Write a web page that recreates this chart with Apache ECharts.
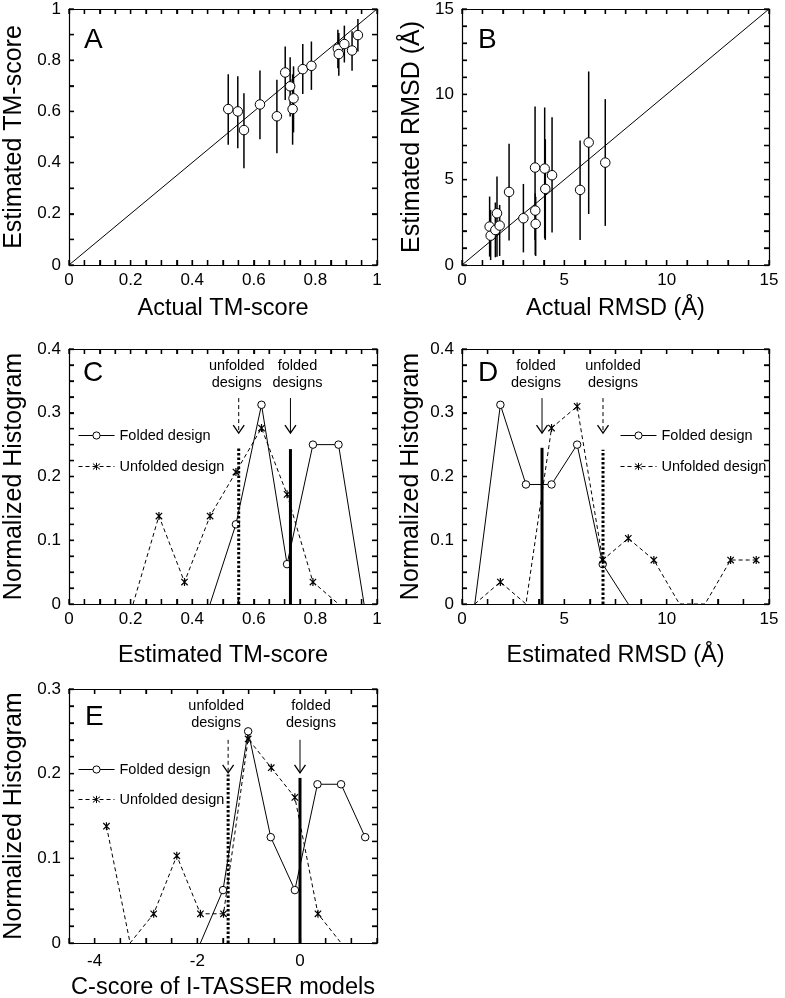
<!DOCTYPE html>
<html>
<head>
<meta charset="utf-8">
<script src="https://cdn.jsdelivr.net/npm/echarts@6/dist/echarts.min.js"></script>
<style>
html, body { margin: 0; padding: 0; background: #fff; }
#chart { width: 785px; height: 998px; }
</style>
</head>
<body>
<div id="chart"></div>
<script>
// ---- A: estimated vs actual TM-score ----
const aActual    = [0.517, 0.548, 0.568, 0.620, 0.675, 0.702, 0.718, 0.729, 0.726, 0.759, 0.787, 0.873, 0.876, 0.894, 0.919, 0.938];
const aEstimated = [0.609, 0.600, 0.527, 0.627, 0.581, 0.752, 0.698, 0.651, 0.609, 0.765, 0.778, 0.845, 0.824, 0.863, 0.838, 0.898];
const aErrLow    = [0.470, 0.456, 0.378, 0.491, 0.437, 0.645, 0.580, 0.518, 0.470, 0.668, 0.684, 0.769, 0.739, 0.791, 0.759, 0.834];
const aErrHigh   = [0.745, 0.737, 0.671, 0.760, 0.724, 0.854, 0.812, 0.776, 0.745, 0.863, 0.873, 0.919, 0.906, 0.935, 0.913, 0.961];
const aIdentity  = [0, 1];

// ---- B: estimated vs actual RMSD ----
const bActual    = [1.35, 1.40, 1.63, 1.71, 1.84, 2.30, 3.00, 3.57, 3.58, 3.60, 4.04, 4.07, 4.40, 5.77, 6.19, 7.00];
const bEstimated = [2.25, 1.72, 2.05, 3.03, 2.31, 4.28, 2.74, 5.71, 3.19, 2.41, 5.65, 4.46, 5.26, 4.40, 7.18, 6.00];
const bErrLow    = [0.49, 0.29, 0.45, 0.49, 0.53, 1.43, 0.74, 1.47, 0.59, 0.53, 1.56, 1.47, 1.90, 1.47, 2.99, 2.29];
const bErrHigh   = [4.01, 3.23, 3.66, 5.18, 3.52, 7.10, 4.75, 9.29, 4.20, 4.00, 9.23, 7.37, 8.66, 7.29, 11.34, 9.72];
const bIdentity  = [0, 15];

// ---- C: histogram of estimated TM-score ----
const cFoldedX   = [0.458, 0.542, 0.625, 0.708, 0.792, 0.875, 0.958];
const cFoldedY   = [0, 0.125, 0.3125, 0.0625, 0.25, 0.25, 0];
const cUnfoldedX = [0.208, 0.292, 0.375, 0.458, 0.542, 0.625, 0.708, 0.792, 0.875];
const cUnfoldedY = [0, 0.138, 0.0345, 0.138, 0.207, 0.276, 0.172, 0.0345, 0];
const cCuts      = [0.551, 0.719];   // unfolded mean, folded mean

// ---- D: histogram of estimated RMSD ----
const dFoldedX   = [0.625, 1.875, 3.125, 4.375, 5.625, 6.875, 8.125];
const dFoldedY   = [0, 0.3125, 0.1875, 0.1875, 0.25, 0.0625, 0];
const dUnfoldedX = [0.625, 1.875, 3.125, 4.375, 5.625, 6.875, 8.125, 9.375, 10.625, 11.875, 13.125, 14.375];
const dUnfoldedY = [0, 0.0345, 0, 0.276, 0.31, 0.069, 0.103, 0.069, 0, 0, 0.069, 0.069];
const dCuts      = [3.91, 6.89];     // folded mean, unfolded mean

// ---- E: histogram of C-score ----
const eFoldedX   = [-1.94, -1.50, -1.01, -0.57, -0.10, 0.34, 0.80, 1.27];
const eFoldedY   = [0, 0.0625, 0.25, 0.125, 0.0625, 0.1875, 0.1875, 0.125];
const eUnfoldedX = [-3.77, -3.31, -2.85, -2.40, -1.94, -1.49, -1.01, -0.56, -0.10, 0.35, 0.80];
const eUnfoldedY = [0.138, 0, 0.0345, 0.103, 0.0345, 0.0345, 0.241, 0.207, 0.172, 0.0345, 0];
const eCuts      = [-1.40, 0.0];     // unfolded mean, folded mean

const legendNames = ['Folded design', 'Unfolded design'];
const cutText = { folded: 'folded\ndesigns', unfolded: 'unfolded\ndesigns' };

const FONT = 'Liberation Sans, Arial, sans-serif';
const STAR = 'path://M0,-5L0,5M-4,-4L4,4M-4,4L4,-4';

let xAxes = [];
let yAxes = [];
let frameTicks = [];

function tickText(step){
  return function(v){
    const k = v / step;
    return Math.abs(k - Math.round(k)) < 1e-6 ? String(Math.round(v * 1000) / 1000) : '';
  };
}

// inward frame ticks, one item per tick: [x, y, side] (0 bottom, 1 top, 2 left, 3 right)
function tickSeries(grid, x, y){
  const items = [];
  const nx = Math.round((x.max - x.min) / x.interval);
  for (let i = 0; i <= nx; i++) {
    const v = x.min + i * x.interval;
    items.push([v, y.min, 0], [v, y.max, 1]);
  }
  const ny = Math.round((y.max - y.min) / y.interval);
  for (let j = 0; j <= ny; j++) {
    const v = y.min + j * y.interval;
    items.push([x.min, v, 2], [x.max, v, 3]);
  }
  return {
    type: 'custom', xAxisIndex: grid * 2, yAxisIndex: grid * 2, silent: true, z: 5,
    data: items,
    renderItem: function(params, api){
      const p = api.coord([api.value(0), api.value(1)]);
      const side = api.value(2);
      const d = side === 0 ? [0, -5] : side === 1 ? [0, 5] : side === 2 ? [5, 0] : [-5, 0];
      return { type: 'line', shape: { x1: p[0], y1: p[1], x2: p[0] + d[0], y2: p[1] + d[1] },
               style: { stroke: '#000', lineWidth: 1.3 } };
    }
  };
}

function boxAxes(grid, x, y){
  const tick = { show: true, inside: true, length: 5, lineStyle: { color: '#000', width: 1.3 } };
  const line = { show: true, onZero: false, lineStyle: { color: '#000', width: 1.2 } };
  const labelStyle = { fontSize: 17, color: '#000', fontFamily: FONT };
  const base = { type: 'value', gridIndex: grid, splitLine: { show: false }, axisLine: line, axisTick: tick };
  xAxes.push(Object.assign({}, base, {
    position: 'bottom', min: x.min, max: x.max, interval: x.interval,
    name: x.name, nameLocation: 'middle', nameGap: x.nameGap,
    nameTextStyle: { fontSize: 23.5, color: '#000', fontFamily: FONT },
    axisLabel: Object.assign({ formatter: tickText(x.labelStep), margin: x.margin }, labelStyle)
  }));
  xAxes.push(Object.assign({}, base, {
    position: 'top', min: x.min, max: x.max, interval: x.interval, axisLabel: { show: false }
  }));
  yAxes.push(Object.assign({}, base, {
    position: 'left', min: y.min, max: y.max, interval: y.interval,
    name: y.name, nameLocation: 'middle', nameGap: y.nameGap,
    nameTextStyle: { fontSize: 25, color: '#000', fontFamily: FONT },
    axisLabel: Object.assign({ formatter: tickText(y.labelStep), margin: 8 }, labelStyle)
  }));
  yAxes.push(Object.assign({}, base, {
    position: 'right', min: y.min, max: y.max, interval: y.interval, axisLabel: { show: false }
  }));
  frameTicks.push(tickSeries(grid, x, y));
}

boxAxes(0, { min: 0, max: 1, interval: 0.05, labelStep: 0.2, name: 'Actual TM-score', nameGap: 32, margin: 7 },
           { min: 0, max: 1, interval: 0.1, labelStep: 0.2, name: 'Estimated TM-score', nameGap: 42 });
boxAxes(1, { min: 0, max: 15, interval: 1, labelStep: 5, name: 'Actual RMSD (Å)', nameGap: 32, margin: 7 },
           { min: 0, max: 15, interval: 1, labelStep: 5, name: 'Estimated RMSD (Å)', nameGap: 37 });
boxAxes(2, { min: 0, max: 1, interval: 0.05, labelStep: 0.2, name: 'Estimated TM-score', nameGap: 40, margin: 7 },
           { min: 0, max: 0.4, interval: 0.025, labelStep: 0.1, name: 'Normalized Histogram', nameGap: 42 });
boxAxes(3, { min: 0, max: 15, interval: 1.25, labelStep: 5, name: 'Estimated RMSD (Å)', nameGap: 40, margin: 7 },
           { min: 0, max: 0.4, interval: 0.025, labelStep: 0.1, name: 'Normalized Histogram', nameGap: 38 });
boxAxes(4, { min: -4.5, max: 1.5, interval: 0.5, labelStep: 2, name: 'C-score of I-TASSER models', nameGap: 33, margin: 10 },
           { min: 0, max: 0.3, interval: 0.02, labelStep: 0.1, name: 'Normalized Histogram', nameGap: 42 });

function identitySeries(grid, ends){
  return {
    type: 'line', xAxisIndex: grid * 2, yAxisIndex: grid * 2, silent: true,
    data: ends.map(v => [v, v]), symbol: 'none',
    lineStyle: { color: '#000', width: 1 }, z: 1
  };
}

function errorBarSeries(grid, xs, lo, hi){
  return {
    type: 'custom', xAxisIndex: grid * 2, yAxisIndex: grid * 2, silent: true,
    data: xs.map((x, i) => [x, lo[i], hi[i]]),
    renderItem: function(params, api){
      const p1 = api.coord([api.value(0), api.value(1)]);
      const p2 = api.coord([api.value(0), api.value(2)]);
      return { type: 'line', shape: { x1: p1[0], y1: p1[1], x2: p2[0], y2: p2[1] },
               style: { stroke: '#000', lineWidth: 1.5 } };
    },
    z: 2
  };
}

function pointSeries(grid, xs, ys){
  return {
    type: 'scatter', xAxisIndex: grid * 2, yAxisIndex: grid * 2, silent: true,
    data: xs.map((x, i) => [x, ys[i]]),
    symbol: 'circle', symbolSize: 9.5,
    itemStyle: { color: '#fff', borderColor: '#000', borderWidth: 1, opacity: 1 },
    z: 3
  };
}

function histSeries(grid, xs, ys, folded){
  return {
    name: folded ? legendNames[0] : legendNames[1],
    type: 'line', xAxisIndex: grid * 2, yAxisIndex: grid * 2, silent: true,
    data: xs.map((x, i) => ys[i] === 0 ? { value: [x, ys[i]], symbol: 'none' } : [x, ys[i]]),
    symbol: folded ? 'circle' : STAR,
    symbolSize: folded ? 7.5 : 8,
    symbolKeepAspect: true,
    showAllSymbol: true,
    lineStyle: { color: '#000', width: 1, type: folded ? 'solid' : [4, 3] },
    itemStyle: folded ? { color: '#fff', borderColor: '#000', borderWidth: 1 }
                      : { color: '#000', borderColor: '#000', borderWidth: 1.2 },
    z: 3
  };
}

// kinds: 1 = folded designs, 0 = unfolded designs
function cutSeries(grid, cuts, kinds, opt){
  return {
    type: 'custom', xAxisIndex: grid * 2, yAxisIndex: grid * 2, silent: true,
    data: cuts.map((x, i) => [x, kinds[i]]),
    renderItem: function(params, api){
      const x = api.value(0);
      const folded = api.value(1) === 1;
      const base = api.coord([x, 0]);
      const top = api.coord([x, folded ? opt.foldedTop : opt.unfoldedTop]);
      const stemTop = api.coord([x, opt.arrowTop]);
      const tip = api.coord([x, opt.arrowTip]);
      const label = api.coord([x, opt.textY]);
      const dx = folded ? opt.foldedShift : opt.unfoldedShift;
      const barStyle = { stroke: '#000', lineWidth: 3 };
      const stemStyle = { stroke: '#000', lineWidth: 1 };
      if (!folded) {
        barStyle.lineDash = [2.5, 2];
        stemStyle.lineDash = [4, 3];
      }
      return { type: 'group', children: [
        { type: 'line', shape: { x1: base[0], y1: base[1], x2: top[0], y2: top[1] }, style: barStyle },
        { type: 'line', shape: { x1: stemTop[0], y1: stemTop[1], x2: tip[0], y2: tip[1] }, style: stemStyle },
        { type: 'polyline', shape: { points: [[tip[0] - 5.5, tip[1] - 8], [tip[0], tip[1]], [tip[0] + 5.5, tip[1] - 8]] },
          style: { stroke: '#000', lineWidth: 1.3, fill: 'none' } },
        { type: 'text', x: label[0] + dx, y: label[1],
          style: { text: folded ? cutText.folded : cutText.unfolded, align: 'center', verticalAlign: 'middle',
                   fontSize: 14.5, lineHeight: 17, fontFamily: FONT, fill: '#000' } }
      ] };
    },
    z: 4
  };
}

const letterStyle = { fontSize: 28, fontWeight: 'normal', color: '#000', fontFamily: FONT };
const legendBase = {
  data: legendNames, orient: 'vertical', itemWidth: 36, itemHeight: 9, itemGap: 16, padding: 0,
  selectedMode: false,
  itemStyle: { borderWidth: 1 },
  lineStyle: { width: 1 },
  textStyle: { fontSize: 14.5, color: '#000', fontFamily: FONT }
};

const option = {
  animation: false,
  backgroundColor: '#fff',
  title: [
    { text: 'A', left: 84, top: 26, padding: 0, textStyle: letterStyle },
    { text: 'B', left: 478, top: 26, padding: 0, textStyle: letterStyle },
    { text: 'C', left: 83, top: 359, padding: 0, textStyle: letterStyle },
    { text: 'D', left: 478, top: 359, padding: 0, textStyle: letterStyle },
    { text: 'E', left: 85, top: 703, padding: 0, textStyle: letterStyle }
  ],
  legend: [
    Object.assign({}, legendBase, { left: 78, top: 428 }),
    Object.assign({}, legendBase, { left: 620, top: 428 }),
    Object.assign({}, legendBase, { left: 78, top: 762, itemGap: 15 })
  ],
  grid: [
    { left: 69, top: 9, width: 308, height: 256, outerBoundsMode: 'none' },
    { left: 462, top: 9, width: 307, height: 256, outerBoundsMode: 'none' },
    { left: 69, top: 349, width: 308, height: 255, outerBoundsMode: 'none' },
    { left: 462, top: 349, width: 307, height: 255, outerBoundsMode: 'none' },
    { left: 69, top: 689, width: 308, height: 254, outerBoundsMode: 'none' }
  ],
  xAxis: xAxes,
  yAxis: yAxes,
  // frame ticks go first so nothing drawn later can keep them from rendering
  series: frameTicks.concat([
    identitySeries(0, aIdentity),
    errorBarSeries(0, aActual, aErrLow, aErrHigh),
    pointSeries(0, aActual, aEstimated),
    identitySeries(1, bIdentity),
    errorBarSeries(1, bActual, bErrLow, bErrHigh),
    pointSeries(1, bActual, bEstimated),
    histSeries(2, cFoldedX, cFoldedY, true),
    histSeries(2, cUnfoldedX, cUnfoldedY, false),
    cutSeries(2, cCuts, [0, 1], { unfoldedTop: 0.245, foldedTop: 0.243, arrowTop: 0.323, arrowTip: 0.268, textY: 0.36, unfoldedShift: -2, foldedShift: 7 }),
    histSeries(3, dFoldedX, dFoldedY, true),
    histSeries(3, dUnfoldedX, dUnfoldedY, false),
    cutSeries(3, dCuts, [1, 0], { unfoldedTop: 0.242, foldedTop: 0.245, arrowTop: 0.323, arrowTip: 0.268, textY: 0.36, unfoldedShift: 10, foldedShift: -6 }),
    histSeries(4, eFoldedX, eFoldedY, true),
    histSeries(4, eUnfoldedX, eUnfoldedY, false),
    cutSeries(4, eCuts, [0, 1], { unfoldedTop: 0.199, foldedTop: 0.195, arrowTop: 0.24, arrowTip: 0.201, textY: 0.27, unfoldedShift: -12, foldedShift: 11 })
  ])
};

const chart = echarts.init(document.getElementById('chart'));
chart.setOption(option);
</script>
</body>
</html>
